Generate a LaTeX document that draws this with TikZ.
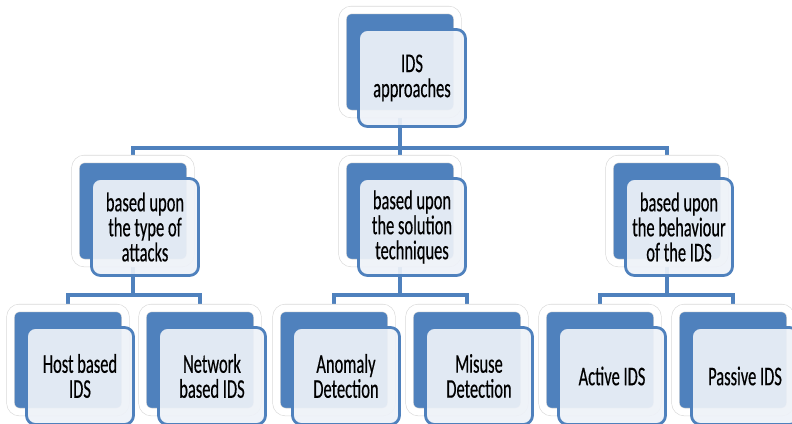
\documentclass[tikz,border=0pt]{standalone}
\usepackage{fontspec}
\setmainfont{Carlito}[FakeStretch=0.61, FakeBold=0.4]
\usepackage{tikz}
\usetikzlibrary{backgrounds}

\definecolor{idsblue}{HTML}{4F81BD}
\definecolor{idspale}{HTML}{EEF2F8}

\begin{document}
\begin{tikzpicture}[
    x=1pt, y=1pt,
    back/.style={rounded corners=9pt, fill=idsblue, draw=black!15, line width=0.6pt,
        double=white, double distance=7pt, minimum width=115pt, minimum height=104pt, inner sep=0pt},
    card/.style={rounded corners=9pt, fill=idspale, fill opacity=0.92, text opacity=1,
        draw=idsblue, line width=2.8pt, minimum width=107pt, minimum height=97pt,
        align=center, font=\fontsize{27}{25}\selectfont},
    link/.style={draw=idsblue, line width=4.5pt}
]
\useasboundingbox (0,0) rectangle (792,-423);

% root
\node[back] (top) at (400,-62) {};
\node[card, xshift=12pt, yshift=-16pt] (top-t) at (top) {IDS\\approaches};

% second level
\node[back] (attacks) at (133,-211) {};
\node[card, xshift=12pt, yshift=-16pt] (attacks-t) at (attacks) {based upon\\the type of\\attacks};
\node[back] (solution) at (400,-211) {};
\node[card, xshift=12pt, yshift=-16pt] (solution-t) at (solution) {based upon\\the solution\\techniques};
\node[back] (behaviour) at (667,-211) {};
\node[card, xshift=12pt, yshift=-16pt] (behaviour-t) at (behaviour) {based upon\\the behaviour\\of the IDS};

% leaves
\node[back] (host) at (68,-360) {};
\node[card, xshift=12pt, yshift=-16pt] (host-t) at (host) {Host based\\IDS};
\node[back] (network) at (200,-360) {};
\node[card, xshift=12pt, yshift=-16pt] (network-t) at (network) {Network\\based IDS};
\node[back] (anomaly) at (334,-360) {};
\node[card, xshift=12pt, yshift=-16pt] (anomaly-t) at (anomaly) {Anomaly\\Detection};
\node[back] (misuse) at (467,-360) {};
\node[card, xshift=12pt, yshift=-16pt] (misuse-t) at (misuse) {Misuse\\Detection};
\node[back] (active) at (600,-360) {};
\node[card, xshift=12pt, yshift=-16pt] (active-t) at (active) {Active IDS};
\node[back] (passive) at (733,-360) {};
\node[card, xshift=12pt, yshift=-16pt] (passive-t) at (passive) {Passive IDS};

\begin{scope}[on background layer]
\draw[link] (top.center) -- ++(0,-86) -| (attacks.north);
\draw[link] (top.center) -- ++(0,-86) -| (behaviour.north);
\draw[link] (top.center) -- (solution.north);
\draw[link] (attacks.center) -- ++(0,-84) -| (host.north);
\draw[link] (attacks.center) -- ++(0,-84) -| (network.north);
\draw[link] (solution.center) -- ++(0,-84) -| (anomaly.north);
\draw[link] (solution.center) -- ++(0,-84) -| (misuse.north);
\draw[link] (behaviour.center) -- ++(0,-84) -| (active.north);
\draw[link] (behaviour.center) -- ++(0,-84) -| (passive.north);
\end{scope}
\end{tikzpicture}
\end{document}
